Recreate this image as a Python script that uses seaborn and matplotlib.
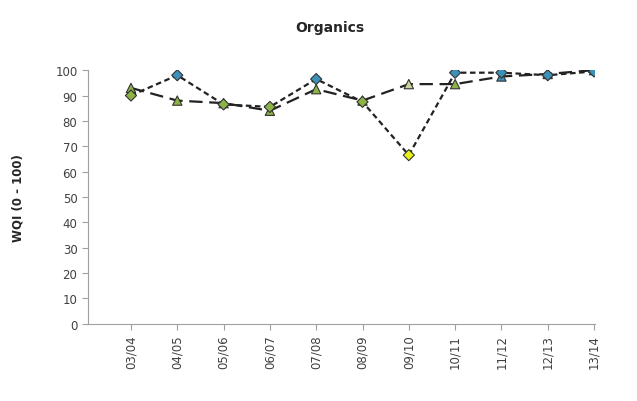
import matplotlib
matplotlib.use("Agg")
import matplotlib.pyplot as plt
import seaborn as sns
import pandas as pd

years = ["03/04", "04/05", "05/06", "06/07", "07/08", "08/09", "09/10", "10/11", "11/12", "12/13", "13/14"]
diamond_vals = [90, 98, 86.5, 85.5, 96.5, 87.5, 66.5, 99, 99, 98, 99.5]
triangle_vals = [93, 88, 87, 84, 92.5, 88, 94.5, 94.5, 97.5, 98.5, 100]
diamond_cls = ["fair", "high", "fair", "fair", "high", "fair", "low", "high", "high", "high", "high"]
triangle_cls = ["fair", "fair", "fair", "fair", "fair", "fair", "pale", "fair", "high", "high", "high"]

palette = {"fair": "#8db347", "high": "#3c91b8", "low": "#e6ef1a", "pale": "#c9d89a"}

sns.set_style("white")
plt.rcParams['font.family'] = ['DejaVu Sans']

df_d = pd.DataFrame({"x": range(len(years)), "y": diamond_vals, "c": diamond_cls})
df_t = pd.DataFrame({"x": range(len(years)), "y": triangle_vals, "c": triangle_cls})

fig = plt.figure(figsize=(6.37, 4.02), dpi=100)
ax = fig.add_axes([0.138, 0.192, 0.796, 0.631])

sns.lineplot(data=df_t, x="x", y="y", ax=ax, color="#222222", lw=1.6)
sns.lineplot(data=df_d, x="x", y="y", ax=ax, color="#222222", lw=1.6)
ax.lines[0].set_dashes((6, 3))
ax.lines[1].set_dashes((2.5, 1.6))

sns.scatterplot(data=df_t, x="x", y="y", hue="c", palette=palette, marker="^", s=45,
                edgecolor="#333333", linewidth=0.8, ax=ax, legend=False, zorder=3)
sns.scatterplot(data=df_d, x="x", y="y", hue="c", palette=palette, marker="D", s=32,
                edgecolor="#333333", linewidth=0.8, ax=ax, legend=False, zorder=4)

ax.set_xlim(-0.93, 10.02)
ax.set_ylim(0, 100)
ax.set_yticks(range(0, 101, 10))
ax.set_xticks(range(len(years)))
ax.set_xticklabels(years, rotation=90, fontsize=8.5, color="#404040")
ax.tick_params(axis="y", labelsize=8.5, labelcolor="#404040", length=4, color="#a0a0a0", direction="out", left=True)
ax.tick_params(axis="x", length=4, color="#a0a0a0", direction="out", bottom=True)
for s in ["top", "right"]:
    ax.spines[s].set_visible(False)
for s in ["left", "bottom"]:
    ax.spines[s].set_color("#a0a0a0")
    ax.spines[s].set_linewidth(0.8)

ax.set_xlabel("")
ax.set_ylabel("WQI (0 - 100)", fontsize=8.5, fontweight="bold", labelpad=22)
fig.text(0.518, 0.93, "Organics", ha="center", va="center", fontsize=10, fontweight="bold")

fig.savefig("out.png", dpi=100)
